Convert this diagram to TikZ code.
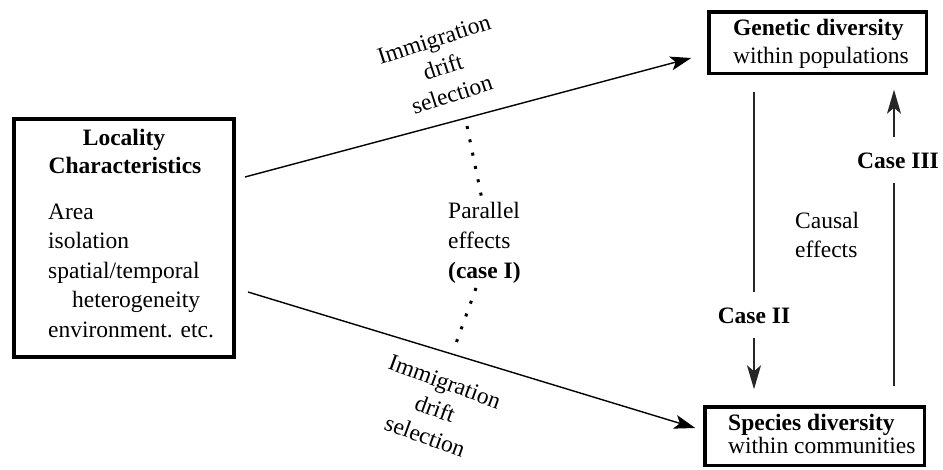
\documentclass[tikz,border=0pt]{standalone}
\usepackage{fontspec}
\setmainfont{Liberation Serif}
\usetikzlibrary{arrows.meta,calc}
\begin{document}
\begin{tikzpicture}[x=1pt,y=-1pt,
  every node/.style={font=\fontsize{23.5}{29}\selectfont, inner sep=0pt},
  box/.style={draw, line width=3.5pt, inner sep=0pt},
  diag/.style={line width=1.4pt, -{Stealth[length=21pt,width=14pt,inset=5pt]}},
  vline/.style={line width=1.3pt, draw=black!85},
  varrow/.style={vline, -{Stealth[length=24pt,width=14pt,inset=6pt]}},
  dotline/.style={line width=3pt, dash pattern=on 3pt off 10.6pt},
  lft/.style={anchor=base west},
  ctr/.style={anchor=base},
]
\useasboundingbox (0,0) rectangle (943,469);

% boxes
\node[box, line width=4pt, minimum width=220pt, minimum height=238pt] (loc) at (124,238) {};
\node[box, minimum width=217.5pt, minimum height=61.5pt] (gen) at (817.5,42.5) {};
\node[box, minimum width=219.5pt, minimum height=58.5pt] (spe) at (814.5,436) {};

% locality text
\node[ctr] (t1) at (124,145) {\textbf{Locality}};
\node[ctr] (t2) at (125,173) {\textbf{Characteristics}};
\node[lft] (t3) at (48,219) {Area};
\node[lft] (t4) at (48,248) {isolation};
\node[lft] (t5) at (48,278) {spatial/temporal};
\node[lft] (t6) at (72,307) {heterogeneity};
\node[lft] (t7) at (48,337) {environment. etc.};

% genetic / species text
\node[lft] (g1) at (733,35) {\textbf{Genetic diversity}};
\node[lft] (g2) at (733,63) {within populations};
\node[lft] (s1) at (728,430) {\textbf{Species diversity}};
\node[lft] (s2) at (728,453) {within communities};

% diagonal arrows
\draw[diag] ($(loc.east)+(9,-61)$) -- ($(gen.west)+(-15.75,15.5)$);
\draw[diag] ($(loc.east)+(12,54)$) -- ($(spe.west)+(-7.75,-8)$);

% rotated labels
\node[align=center, rotate=18] (lab1) at (443,67) {Immigration\\drift\\selection};
\node[align=center, rotate=-20] (lab2) at (435,409) {Immigration\\drift\\selection};

% parallel effects
\node[lft] (p1) at (448,218) {Parallel};
\node[lft] (p2) at (448,248) {effects};
\node[lft] (p3) at (448,278) {\textbf{(case I)}};
\coordinate (d1a) at (467,126);
\coordinate (d1b) at (481.5,197);
\coordinate (d2a) at (476,288);
\coordinate (d2b) at (456.5,342);
\draw[dotline] (d1a) -- (d1b);
\draw[dotline] (d2a) -- (d2b);

% causal effects
\node[lft] (c1) at (795,228) {Causal};
\node[lft] (c0) at (795,257) {effects};

% case II
\node[ctr, inner ysep=15pt] (c2) at (754,323) {\textbf{Case II}};
\draw[vline, shorten <=16.75pt] (c2.north |- gen.south) -- (c2.north);
\draw[varrow, shorten >=15.75pt] (c2.south) -- (c2.south |- spe.north);

% case III
\node[ctr, inner ysep=15pt] (c3) at (898,168) {\textbf{Case III}};
\path ($(c3.south)+(-4,0)$) coordinate (c3s);
\path ($(c3.north)+(-4,0)$) coordinate (c3n);
\draw[vline, shorten <=18.75pt] (c3s |- spe.north) -- (c3s);
\draw[varrow, shorten >=14.75pt] (c3n) -- (c3n |- gen.south);
\end{tikzpicture}
\end{document}
